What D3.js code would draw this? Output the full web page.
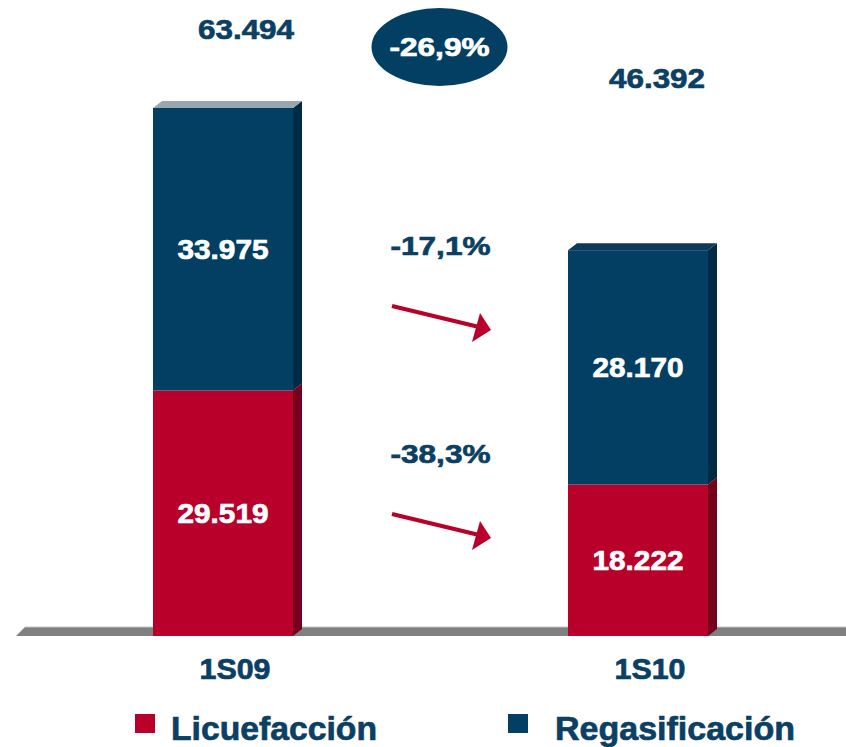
<!DOCTYPE html>
<html>
<head>
<meta charset="utf-8">
<script src="https://cdn.jsdelivr.net/npm/d3@7"></script>
<style>
  html, body { margin: 0; padding: 0; background: #ffffff; }
  svg { display: block; }
  text { font-family: "Liberation Sans", Arial, sans-serif; font-weight: bold; stroke-width: 0.7px; }
</style>
</head>
<body>
<div id="chart"></div>
<script>
// ---------- data ----------
const categories = ["1S09", "1S10"];
const seriesNames = ["Licuefacción", "Regasificación"];
const licuefaccion = [29519, 18222];
const regasificacion = [33975, 28170];
const totals = [63494, 46392];
const totalChange = "-26,9%";
const seriesChange = ["-17,1%", "-38,3%"]; // regasificación, licuefacción

// ---------- layout / style ----------
const W = 846, H = 747;
const navy = "#0b3f63";
const colors = { front: ["#b8002b", "#023f63"], side: ["#76001b", "#012a45"] };
const topFace = ["#9aa6b0", "#0c3a5a"];
const depthX = 9, depthY = -7;
const barWidth = 140;

const svg = d3.select("#chart").append("svg").attr("width", W).attr("height", H);

const x = d3.scalePoint().domain(categories).range([223, 638]);
const y = d3.scaleLinear().domain([0, d3.max(totals)]).range([636, 108]);

const fmt = d3.formatLocale({ decimal: ",", thousands: ".", grouping: [3], currency: ["", ""] }).format(",d");

// floor
const floorY = y(0);
svg.append("polygon")
  .attr("points", [[16, floorY], [W, floorY], [W, floorY - 9], [25, floorY - 9]].map(p => p.join(",")).join(" "))
  .attr("fill", "#808080");
svg.append("line")
  .attr("x1", 25).attr("x2", W).attr("y1", floorY - 9).attr("y2", floorY - 9)
  .attr("stroke", "#c4c4c4").attr("stroke-width", 1);

// stacked data
const stackData = categories.map((c, i) => ({ cat: c, Licuefacción: licuefaccion[i], Regasificación: regasificacion[i] }));
const stack = d3.stack().keys(seriesNames)(stackData);

const g = svg.append("g");
stack.forEach((layer, si) => {
  layer.forEach((d, i) => {
    const cx = x(categories[i]);
    const x0 = cx - barWidth / 2, x1 = cx + barWidth / 2;
    const yt = y(d[1]), yb = y(d[0]);
    // side face
    g.append("polygon")
      .attr("points", [[x1, yb], [x1 + depthX, yb + depthY], [x1 + depthX, yt + depthY], [x1, yt]].map(p => p.join(",")).join(" "))
      .attr("fill", colors.side[si]);
    // front face
    g.append("rect")
      .attr("x", x0).attr("y", yt).attr("width", barWidth).attr("height", yb - yt)
      .attr("fill", colors.front[si]);
    // top face for the top segment
    if (si === stack.length - 1) {
      g.append("polygon")
        .attr("points", [[x0, yt], [x0 + depthX, yt + depthY], [x1 + depthX, yt + depthY], [x1, yt]].map(p => p.join(",")).join(" "))
        .attr("fill", topFace[i]);
    }
    // value label
    g.append("text")
      .attr("x", cx).attr("y", (yt + yb) / 2 + 10)
      .attr("text-anchor", "middle")
      .attr("fill", "#ffffff").attr("stroke", "#ffffff")
      .attr("font-size", 27)
      .attr("textLength", 91).attr("lengthAdjust", "spacingAndGlyphs")
      .text(fmt(d.data[seriesNames[si]]));
  });
});

// totals above bars
const totalDx = [23, 19], totalBaseline = [39, 88];
totals.forEach((t, i) => {
  svg.append("text")
    .attr("x", x(categories[i]) + totalDx[i]).attr("y", totalBaseline[i])
    .attr("text-anchor", "middle").attr("fill", navy).attr("stroke", navy)
    .attr("font-size", 28)
    .attr("textLength", 96).attr("lengthAdjust", "spacingAndGlyphs")
    .text(fmt(t));
});

// category labels
categories.forEach((c, i) => {
  svg.append("text")
    .attr("x", x(c) + 12).attr("y", 679)
    .attr("text-anchor", "middle").attr("fill", navy).attr("stroke", navy)
    .attr("font-size", 29)
    .attr("textLength", 71).attr("lengthAdjust", "spacingAndGlyphs")
    .text(c);
});

// total change ellipse
const midX = (x(categories[0]) + x(categories[1])) / 2 + 9;
svg.append("ellipse")
  .attr("cx", midX).attr("cy", 47).attr("rx", 68).attr("ry", 39)
  .attr("fill", "#023f63");
svg.append("text")
  .attr("x", midX).attr("y", 56)
  .attr("text-anchor", "middle").attr("fill", "#ffffff").attr("stroke", "#ffffff")
  .attr("font-size", 26)
  .attr("textLength", 100).attr("lengthAdjust", "spacingAndGlyphs")
  .text(totalChange);

// series change labels + arrows
const changeBaseline = [255, 463];
seriesChange.forEach((s, i) => {
  const by = changeBaseline[i];
  svg.append("text")
    .attr("x", midX + 1).attr("y", by)
    .attr("text-anchor", "middle").attr("fill", navy).attr("stroke", navy)
    .attr("font-size", 26)
    .attr("textLength", 100).attr("lengthAdjust", "spacingAndGlyphs")
    .text(s);
  const ax = 392, ay = by + 51;
  svg.append("line")
    .attr("x1", ax).attr("y1", ay).attr("x2", ax + 85).attr("y2", ay + 20.5)
    .attr("stroke", "#b8002b").attr("stroke-width", 4);
  svg.append("polygon")
    .attr("points", [[ax + 99, ay + 24], [ax + 88, ay + 7], [ax + 80, ay + 36]].map(p => p.join(",")).join(" "))
    .attr("fill", "#b8002b");
});

// legend
const legendX = [135, 508], legendText = [171, 555], legendW = [206, 240];
seriesNames.forEach((n, i) => {
  svg.append("rect")
    .attr("x", legendX[i]).attr("y", 714).attr("width", 20).attr("height", 19)
    .attr("fill", colors.front[i]);
  svg.append("text")
    .attr("x", legendText[i]).attr("y", 740)
    .attr("fill", navy).attr("stroke", navy).attr("font-size", 34)
    .attr("textLength", legendW[i]).attr("lengthAdjust", "spacingAndGlyphs")
    .text(n);
});
</script>
</body>
</html>
